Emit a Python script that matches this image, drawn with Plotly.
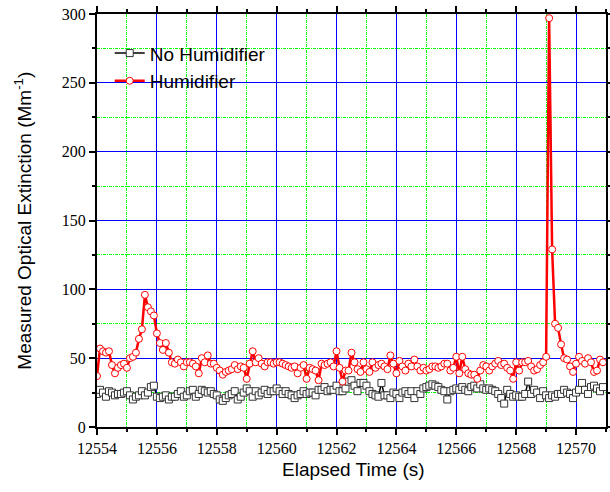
import plotly.graph_objects as go

t0 = 12554.0
dt = 0.1

no_humidifier = [
    24, 27, 25, 22, 26, 25, 23, 24, 24, 25, 26, 23, 20, 22, 23, 26, 23, 25, 29, 30,
    22, 21, 22, 23, 20, 22, 22, 24, 26, 22, 23, 26, 27, 22, 24, 27, 26, 25, 26, 24,
    23, 20, 19, 21, 23, 24, 26, 20, 22, 25, 28, 26, 22, 26, 23, 25, 27, 24, 26, 26,
    28, 26, 24, 26, 24, 23, 21, 23, 24, 26, 24, 25, 25, 23, 27, 27, 29, 26, 27, 27,
    30, 26, 26, 28, 33, 34, 30, 26, 32, 32, 30, 26, 24, 23, 22, 32, 23, 23, 21, 25,
    24, 21, 25, 26, 24, 26, 21, 26, 24, 28, 29, 30, 31, 30, 29, 27, 26, 20, 26, 27,
    28, 27, 29, 27, 26, 29, 30, 28, 31, 28, 27, 28, 27, 26, 24, 21, 17, 27, 24, 22,
    23, 22, 22, 24, 33, 24, 27, 25, 21, 26, 23, 21, 23, 22, 24, 24, 27, 25, 24, 21,
    25, 27, 32, 27, 24, 29, 30, 28, 26, 29,
]

humidifier = [
    37, 57, 55, 54, 55, 45, 39, 43, 45, 46, 43, 50, 51, 54, 64, 71, 96, 87, 84, 81,
    68, 61, 56, 61, 54, 47, 46, 49, 47, 44, 47, 47, 46, 44, 39, 50, 47, 52, 46, 46,
    43, 41, 38, 40, 41, 42, 45, 42, 44, 43, 35, 46, 55, 47, 50, 46, 44, 47, 47, 46,
    47, 47, 46, 45, 44, 43, 44, 39, 43, 45, 35, 43, 42, 41, 34, 46, 45, 46, 47, 44,
    55, 43, 33, 41, 41, 54, 47, 42, 40, 47, 42, 40, 47, 43, 45, 46, 44, 42, 52, 46,
    39, 48, 44, 41, 46, 44, 49, 44, 41, 43, 41, 42, 44, 44, 43, 44, 46, 46, 41, 43,
    51, 39, 51, 42, 39, 38, 38, 35, 41, 45, 44, 41, 44, 46, 48, 45, 46, 43, 41, 35,
    47, 41, 47, 47, 48, 44, 41, 42, 45, 47, 51, 297, 129, 75, 72, 60, 50, 49, 44, 40,
    46, 51, 48, 46, 50, 47, 40, 41, 49, 47,
]

x_ticks = [12554, 12556, 12558, 12560, 12562, 12564, 12566, 12568, 12570]
y_ticks = [0, 50, 100, 150, 200, 250, 300]

times = [round(t0 + dt * i, 2) for i in range(len(humidifier))]

fig = go.Figure()
fig.add_trace(go.Scatter(
    x=times, y=no_humidifier, name="No Humidifier", mode="lines+markers",
    line=dict(color="black", width=1.5),
    marker=dict(symbol="square", size=7, color="white",
                line=dict(color="#333333", width=1)),
))
fig.add_trace(go.Scatter(
    x=times, y=humidifier, name="Humidifier", mode="lines+markers",
    line=dict(color="red", width=2.5),
    marker=dict(symbol="circle", size=7, color="white",
                line=dict(color="red", width=1)),
))

tick_font = dict(family="Liberation Serif", size=16, color="black")
title_font = dict(family="Liberation Sans", size=19, color="black")

fig.update_layout(
    width=610, height=492,
    margin=dict(l=97, r=4, t=14, b=65, autoexpand=False),
    paper_bgcolor="white", plot_bgcolor="white",
    showlegend=True,
    legend=dict(x=0.025, y=0.951, xanchor="left", yanchor="top",
                bgcolor="rgba(0,0,0,0)", borderwidth=0,
                font=title_font, tracegroupgap=0),
    annotations=[
        dict(text="Elapsed Time (s)", xref="paper", yref="paper",
             x=0.503, y=-0.104, xanchor="center", yanchor="middle",
             showarrow=False, font=title_font),
        dict(text="Measured Optical Extinction (Mm<sup>-1</sup>)", xref="paper", yref="paper",
             x=-0.147, y=0.5, xanchor="center", yanchor="middle", textangle=-90,
             showarrow=False, font=title_font),
    ],
)
fig.update_xaxes(
    range=[12554, 12571], tickvals=x_ticks, ticktext=[str(v) for v in x_ticks],
    automargin=False,
    showline=True, linecolor="black", linewidth=2, mirror="ticks",
    ticks="outside", ticklen=6, tickwidth=1.5, tickcolor="black",
    showgrid=True, gridcolor="blue", gridwidth=1,
    zeroline=False, tickfont=tick_font,
    minor=dict(dtick=1, tick0=12555, ticks="outside", ticklen=3, tickcolor="black",
               showgrid=True, gridcolor="rgb(0,255,0)", griddash="3px,1px,1px,1px", gridwidth=1),
)
fig.update_yaxes(
    range=[0, 300], tickvals=y_ticks,
    automargin=False,
    showline=True, linecolor="black", linewidth=2, mirror="ticks",
    ticks="outside", ticklen=6, tickwidth=1.5, tickcolor="black",
    showgrid=True, gridcolor="blue", gridwidth=1,
    zeroline=False, tickfont=tick_font,
    minor=dict(dtick=25, tick0=25, ticks="outside", ticklen=3, tickcolor="black",
               showgrid=True, gridcolor="rgb(0,255,0)", griddash="3px,1px,1px,1px", gridwidth=1),
)

fig.write_html(
    "out.html",
    config={"displayModeBar": False},
    post_script="document.body.style.margin='0';document.body.style.overflow='hidden';",
)
